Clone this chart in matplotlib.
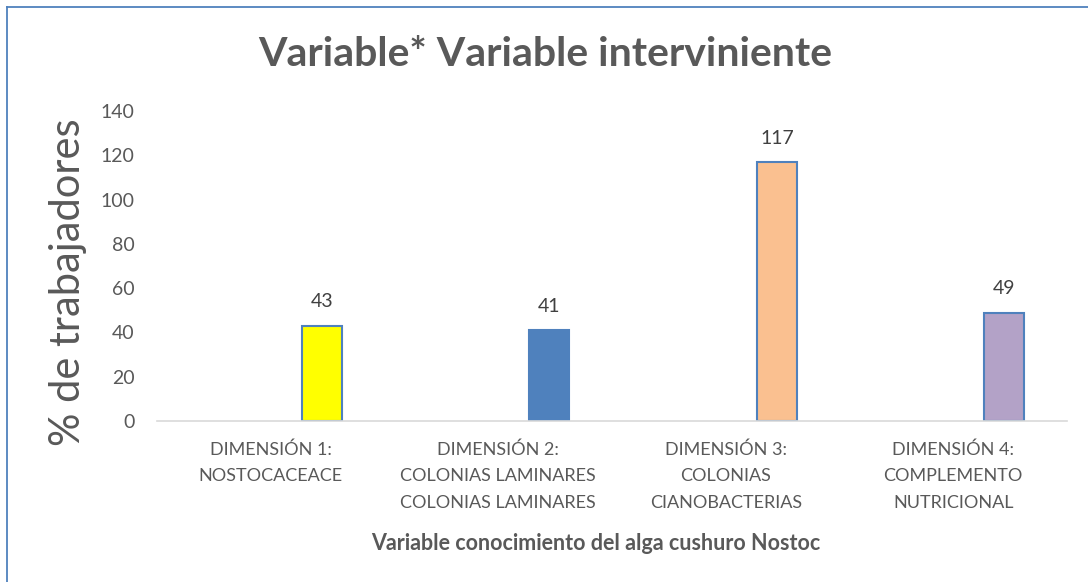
import matplotlib.pyplot as plt
from matplotlib.lines import Line2D

# datos
categorias = ["DIMENSIÓN 1:\nNOSTOCACEACE",
              "DIMENSIÓN 2:\nCOLONIAS LAMINARES\nCOLONIAS LAMINARES",
              "DIMENSIÓN 3:\nCOLONIAS\nCIANOBACTERIAS",
              "DIMENSIÓN 4:\nCOMPLEMENTO\nNUTRICIONAL"]
valores = [43, 41, 117, 49]
colores = ["#FFFF00", "#4F81BD", "#FAC090", "#B3A2C7"]
yticks = [0, 20, 40, 60, 80, 100, 120, 140]

titulo = "Variable* Variable interviniente"
etiqueta_y = "% de trabajadores"
etiqueta_x = "Variable conocimiento del alga cushuro Nostoc"

c_text = "#595959"
plt.rcParams['font.family'] = ['Lato', 'DejaVu Sans']

fig = plt.figure(figsize=(10.88, 5.82), dpi=100)
ax = fig.add_axes([157/1088, 1-421/582, (1067-157)/1088, (421-111)/582])

# borde (solo arriba e izquierda, la imagen esta recortada)
borde = "#4F81BD"
fig.lines.append(Line2D([7/1088, 1], [1-6.5/582, 1-6.5/582], transform=fig.transFigure,
                        color=borde, linewidth=1.3))
fig.lines.append(Line2D([7/1088, 7/1088], [0, 1-6.5/582], transform=fig.transFigure,
                        color=borde, linewidth=1.3))

x = range(len(valores))
offset = 0.225
ancho = 0.176
barras = ax.bar([i + offset for i in x], valores, width=ancho, color=colores,
                edgecolor="#4F81BD", linewidth=1.5)
for b, v in zip(barras, valores):
    ax.text(b.get_x() + b.get_width()/2, v + 10.8, str(v), ha="center", va="center",
            fontsize=14, color="#404040")

ax.set_xlim(-0.5, 3.5)
ax.set_ylim(0, 140)
ax.set_yticks(yticks)
ax.set_xticks(list(x))
ax.set_xticklabels(categorias, fontsize=13, color=c_text, linespacing=1.78)
ax.tick_params(axis="y", length=0, labelsize=14, colors=c_text, pad=16)
ax.tick_params(axis="x", length=0, pad=15)
for s in ["top", "right", "left"]:
    ax.spines[s].set_visible(False)
ax.spines["bottom"].set_color("#D9D9D9")
ax.spines["bottom"].set_linewidth(1.2)

fig.text(545/1088, 1-55/582, titulo, ha="center", va="center", fontsize=29.5,
         fontweight="bold", color=c_text)
fig.text(68/1088, 1-282/582, etiqueta_y, ha="center", va="center", rotation=90,
         fontsize=30, color=c_text)
fig.text(596/1088, 1-543/582, etiqueta_x, ha="center", va="center", fontsize=15.5,
         fontweight="bold", color=c_text)

fig.savefig("out.png", dpi=100)
